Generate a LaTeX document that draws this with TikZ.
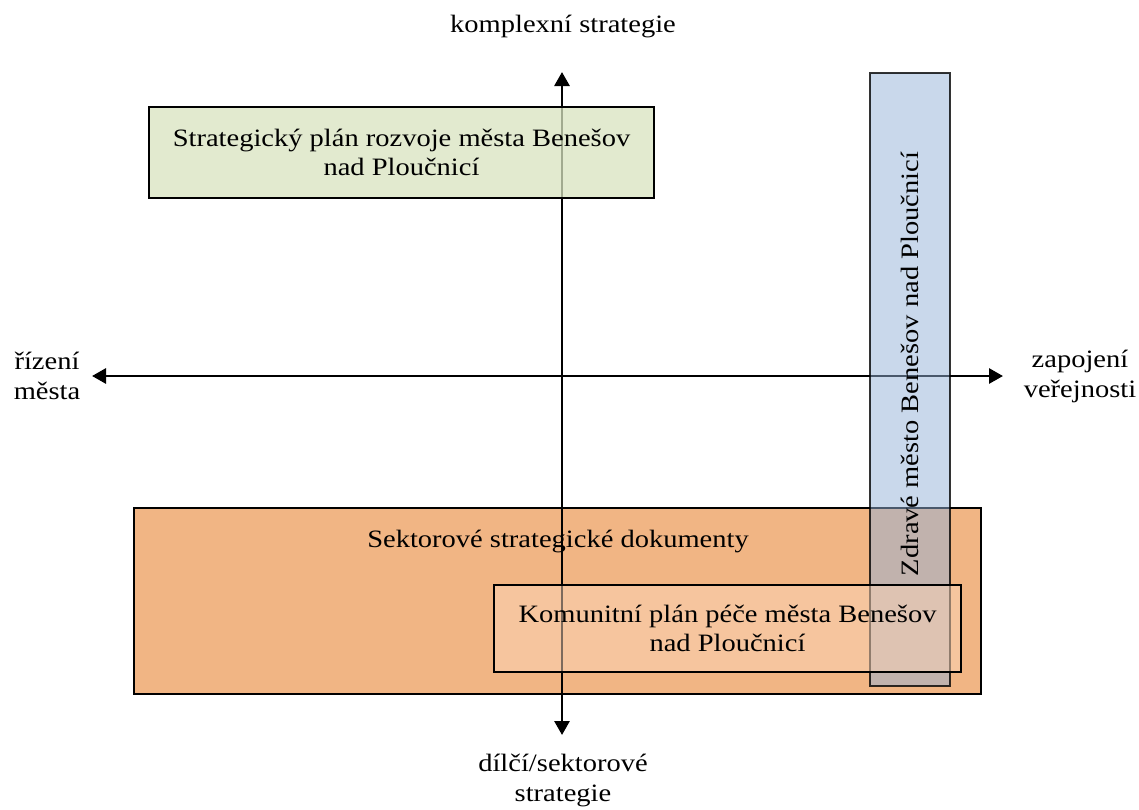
\documentclass[tikz,border=0pt]{standalone}
\usepackage{fontspec}
\setmainfont[FakeStretch=1.14]{Liberation Serif}
\usepackage{xcolor}
\usetikzlibrary{positioning, arrows.meta}
\definecolor{plangreen}{RGB}{216, 227, 191}
\definecolor{healthblue}{RGB}{147, 177, 215}
\definecolor{sectororange}{RGB}{241, 181, 132}
\definecolor{commorange}{RGB}{251, 213, 184}
\tikzset{
    docfont/.style={font=\fontsize{25}{28.5}\selectfont},
    docbox/.style={draw=black, line width=1.3pt, inner sep=0pt, align=center, docfont},
    greenbox/.style={docbox, fill=plangreen, fill opacity=0.75, text opacity=1},
    bluebox/.style={docbox, fill=healthblue, fill opacity=0.5, draw opacity=0.8},
    sectorbox/.style={docbox, fill=sectororange},
    commbox/.style={docbox, fill=commorange, fill opacity=0.5, text opacity=1},
    axislabel/.style={align=center, font=\fontsize{25}{30}\selectfont},
    axis/.style={line width=2.8pt, {Triangle[length=14pt, width=15pt]}-{Triangle[length=14pt, width=15pt]}}
}

\begin{document}
\begin{tikzpicture}[x=1pt, y=-1pt]
    \useasboundingbox (0,0) rectangle (1139,809);

    % sector documents at the bottom
    \node[sectorbox, minimum width=847pt, minimum height=186pt] (sector) at (557.5,601) {};
    \node[docfont] (sectortext) at (558,541) {Sektorové strategické dokumenty};

    % axes
    \coordinate (top) at (562,72);
    \coordinate (bottom) at (562,735);
    \coordinate (left) at (92,376);
    \coordinate (right) at (1003,376);
    \draw[axis] (bottom) -- (top);
    \draw[axis] (left) -- (right);

    \node[axislabel] (complex) at (563,27) {komplexní strategie};
    \node[axislabel] (partial) at (563,780) {dílčí/sektorové\\strategie};
    \node[axislabel] (city) at (47,376) {řízení\\města};
    \node[axislabel] (public) at (1080,376) {zapojení\\veřejnosti};

    % documents
    \node[greenbox, minimum width=505pt, minimum height=91pt] (plan) at (401.5,152.5)
        {Strategický plán rozvoje města Benešov\\nad Ploučnicí};
    \node[bluebox, minimum width=80pt, minimum height=613pt] (health) at (910,379.5) {};
    \node[rotate=90, docfont] (healthtext) at (910,364)
        {Zdravé město Benešov nad Ploučnicí};
    \node[commbox, minimum width=467pt, minimum height=87pt] (community) at (727.5,628.5)
        {Komunitní plán péče města Benešov\\nad Ploučnicí};
\end{tikzpicture}
\end{document}
